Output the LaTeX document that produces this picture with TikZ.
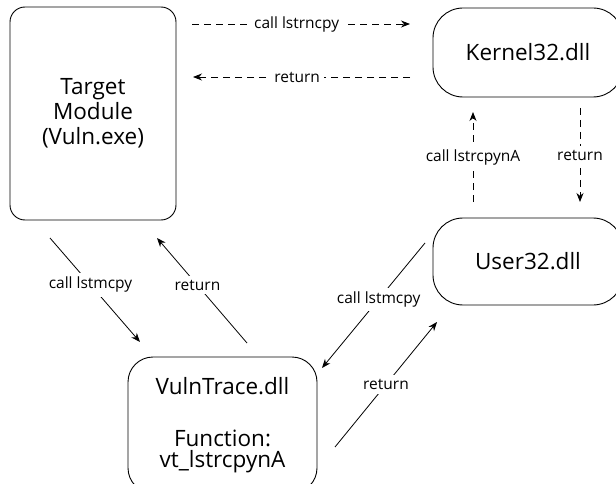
\documentclass[tikz,border=0pt]{standalone}
\usepackage{fontspec}
\setmainfont{Open Sans}
\usetikzlibrary{arrows.meta}

\tikzset{
  module/.style={draw, line width=0.9pt, rounded corners=#1, inner sep=0pt,
    align=center, font=\fontsize{22.5}{25}\selectfont},
  module/.default=25pt,
  calllabel/.style={fill=white, inner sep=4pt, font=\fontsize{15.5}{18}\selectfont},
  flow/.style={line width=0.8pt, -{Stealth[length=9pt,width=7pt]}},
  dashflow/.style={flow, dash pattern=on 7pt off 5pt},
}

\begin{document}
\begin{tikzpicture}[x=1pt,y=-1pt]
\useasboundingbox (0,0) rectangle (616,484);

\node[module=15pt, minimum width=166pt, minimum height=213pt] (target) at (93,113.5) {Target\\Module\\(Vuln.exe)};
\node[module=30pt, minimum width=190pt, minimum height=89pt] (kernel) at (528,52.5) {Kernel32.dll};
\node[module=30pt, minimum width=190pt, minimum height=87pt] (user) at (528,261.5) {User32.dll};
\node[module=25pt, minimum width=189pt, minimum height=136pt,
  font=\fontsize{22.5}{21}\selectfont] (vt) at (222.5,425) {VulnTrace.dll\\[31pt]Function:\\vt\_lstrcpynA};

% ends of the connectors
\coordinate (tk1) at (192,24);   \coordinate (tk2) at (410,24);
\coordinate (kt1) at (410,77);   \coordinate (kt2) at (193,77);
\coordinate (uk1) at (473,202);  \coordinate (uk2) at (473,112);
\coordinate (ku1) at (580,108);  \coordinate (ku2) at (580,202);
\coordinate (tv1) at (50,238);   \coordinate (tv2) at (140,342);
\coordinate (vt1) at (247,343);  \coordinate (vt2) at (157,238);
\coordinate (uv1) at (425,243);  \coordinate (uv2) at (322,368);
\coordinate (vu1) at (335,447);  \coordinate (vu2) at (437,322);

\draw[dashflow] (tk1) -- node[calllabel, pos=0.48] {call lstrncpy} (tk2);
\draw[dashflow] (kt1) -- node[calllabel, pos=0.52] {return} (kt2);
\draw[dashflow] (uk1) -- node[calllabel] {call lstrcpynA} (uk2);
\draw[dashflow] (ku1) -- node[calllabel] {return} (ku2);

\draw[flow] (tv1) -- node[calllabel, pos=0.45] {call lstmcpy} (tv2);
\draw[flow] (vt1) -- node[calllabel, pos=0.55] {return} (vt2);
\draw[flow] (uv1) -- node[calllabel, pos=0.45] {call lstmcpy} (uv2);
\draw[flow] (vu1) -- node[calllabel] {return} (vu2);
\end{tikzpicture}
\end{document}
